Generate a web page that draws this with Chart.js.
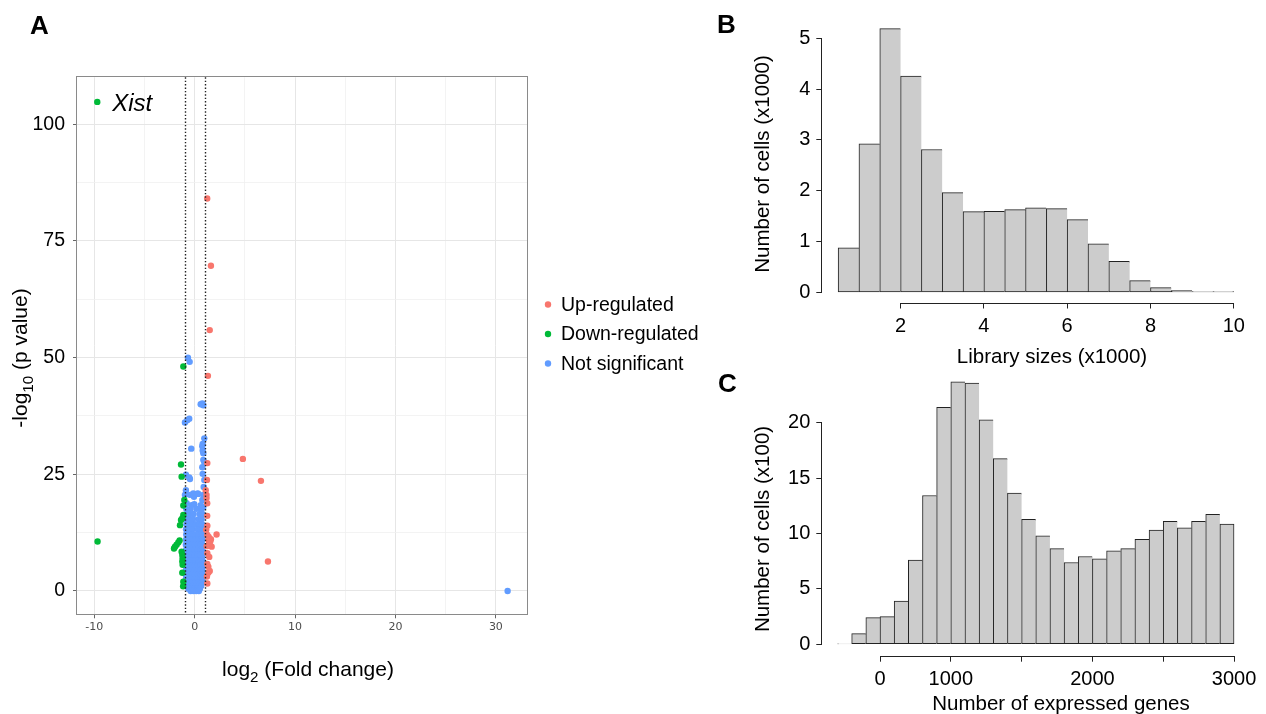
<!DOCTYPE html>
<html>
<head>
<meta charset="utf-8">
<script src="https://cdn.jsdelivr.net/npm/chart.js@4.4.1/dist/chart.umd.min.js"></script>
<style>
html,body{margin:0;padding:0;background:#fff;}
body{width:1266px;height:714px;position:relative;overflow:hidden;font-family:"Liberation Sans",Arial,Helvetica,sans-serif;}
canvas{position:absolute;}
.lab{position:absolute;z-index:5;font-weight:bold;font-size:26px;line-height:26px;color:#000;}
</style>
</head>
<body>
<canvas id="cA" width="700" height="714" style="left:0;top:0;width:700px;height:714px"></canvas>
<canvas id="cB" width="566" height="372" style="left:700px;top:0;width:566px;height:372px"></canvas>
<canvas id="cC" width="566" height="354" style="left:700px;top:360px;width:566px;height:354px"></canvas>
<div class="lab" style="left:30px;top:12px">A</div>
<div class="lab" style="left:717px;top:11px">B</div>
<div class="lab" style="left:718px;top:370px">C</div>
<script>
// ---------------- DATA ----------------
// Panel A: volcano plot, [log2 fold change, -log10 p value]
const seriesNames = ['Up-regulated', 'Down-regulated', 'Not significant'];
const upRegulated = [
  [1.25,84.1],[1.62,69.7],[1.50,55.9],[1.32,46.1],
  [1.26,27.4],[4.80,28.3],[6.60,23.6],[7.30,6.3],[2.18,12.1],
  [1.22,23.8],[1.10,21.6],[1.18,20.6],[1.18,19.9],[1.25,18.8],
  [1.25,16.1],[1.26,14.0],[1.15,13.1],[1.26,12.0],[1.40,11.6],
  [1.36,10.9],[1.62,11.1],[1.55,10.6],[1.45,10.2],[1.69,9.5],[1.20,9.6],
  [1.26,8.1],[1.45,7.3],[1.26,5.8],[1.36,5.2],[1.50,4.3],[1.36,3.9],[1.22,3.1],[1.26,1.6]
];
const downRegulated = [
  [-9.70,104.8],[-9.67,10.6],[-1.13,48.1],
  [-1.36,27.1],[-1.30,24.5],[-1.03,19.5],[-1.13,18.3],[-1.13,16.3],[-1.23,15.6],[-1.36,15.2],[-1.46,14.1],
  [-1.50,10.8],[-1.63,10.4],[-1.80,9.9],[-1.96,9.5],[-2.06,9.1],
  [-1.30,8.4],[-1.23,7.7],[-1.20,7.0],[-1.23,6.3],[-1.20,5.6],[-1.23,3.9],[-1.13,2.0],[-1.15,1.0]
];
const notSignificant = [
  [-0.67,50.0],[-0.50,49.1],
  [0.76,40.2],[0.60,40.0],[0.86,39.8],
  [-0.97,36.1],[-0.74,36.6],[-0.54,36.9],
  [0.96,32.7],[0.80,31.5],[0.76,31.0],[-0.34,30.5],[0.80,30.1],[0.86,29.5],
  [0.86,28.1],[0.96,27.6],[0.76,26.5],[0.80,25.1],[0.96,23.8],
  [-0.87,24.9],[-0.54,24.3],[-0.47,24.0],
  [0.90,22.3],[-0.87,21.6],[-0.97,20.6],[-0.47,20.6],[-0.14,20.9],[0.30,20.9],[-0.07,20.2],[0.36,20.8],[0.86,20.6],[0.76,19.5],
  [-0.80,18.8],[-0.30,18.4],[-0.04,18.6],[0.60,18.4],[0.86,18.0],
  [-0.84,17.6],[-0.40,17.6],[0.20,17.6],[0.70,17.6],
  [-0.80,16.5],[-0.50,16.5],[-0.10,16.5],[0.52,16.5],[0.76,16.5],
  [-0.86,15.4],[-0.56,15.4],[-0.16,15.4],[0.40,15.4],[0.70,15.4],
  [-0.82,14.3],[-0.52,14.3],[-0.20,14.3],[0.12,14.3],[0.44,14.3],[0.74,14.3],
  [-0.86,13.2],[-0.56,13.2],[-0.22,13.2],[0.30,13.2],[0.58,13.2],[0.76,13.2],
  [-0.84,12.1],[-0.54,12.1],[-0.24,12.1],[0.08,12.1],[0.38,12.1],[0.66,12.1],[0.78,12.1],
  [-0.86,11.0],[-0.56,11.0],[-0.26,11.0],[0.06,11.0],[0.36,11.0],[0.64,11.0],[0.78,11.0],
  [-0.88,9.9],[-0.58,9.9],[-0.28,9.9],[0.02,9.9],[0.32,9.9],[0.60,9.9],[0.76,9.9],
  [-0.86,8.8],[-0.56,8.8],[-0.26,8.8],[0.04,8.8],[0.34,8.8],[0.62,8.8],[0.78,8.8],
  [-0.88,7.7],[-0.58,7.7],[-0.30,7.7],[0.00,7.7],[0.30,7.7],[0.58,7.7],[0.76,7.7],
  [-0.86,6.6],[-0.54,6.6],[-0.24,6.6],[0.06,6.6],[0.36,6.6],[0.64,6.6],[0.78,6.6],
  [-0.88,5.5],[-0.58,5.5],[-0.28,5.5],[0.02,5.5],[0.32,5.5],[0.60,5.5],[0.78,5.5],
  [-0.86,4.5],[-0.56,4.5],[-0.26,4.5],[0.04,4.5],[0.34,4.5],[0.62,4.5],[0.76,4.5],
  [-0.88,3.5],[-0.58,3.5],[-0.28,3.5],[0.02,3.5],[0.32,3.5],[0.60,3.5],[0.78,3.5],
  [-0.86,2.6],[-0.56,2.6],[-0.26,2.6],[0.04,2.6],[0.34,2.6],[0.62,2.6],[0.78,2.6],
  [-0.84,1.8],[-0.54,1.8],[-0.24,1.8],[0.06,1.8],[0.36,1.8],[0.64,1.8],[0.76,1.8],
  [-0.76,1.1],[-0.46,1.1],[-0.16,1.1],[0.14,1.1],[0.44,1.1],[0.66,1.1],
  [-0.62,0.5],[-0.34,0.5],[-0.05,0.5],[0.24,0.5],[0.52,0.5],
  [-0.40,0.0],[-0.12,0.0],[0.16,0.0],[0.42,0.0],
  [31.17,0.0]
];
const fcCutoffs = [-1, 1];
const labelledGene = { name: 'Xist', fc: -9.70, p: 104.8 };
const volcanoXMajor = [-10, 0, 10, 20, 30];
const volcanoXMinor = [-5, 5, 15, 25];
const volcanoYMajor = [0, 25, 50, 75, 100];
const volcanoYMinor = [12.5, 37.5, 62.5, 87.5];

// Panel B: library sizes histogram (x1000), bin mids and cell counts (x1000)
const libSizeMids = [0.75,1.25,1.75,2.25,2.75,3.25,3.75,4.25,4.75,5.25,5.75,6.25,6.75,7.25,7.75,8.25,8.75,9.25,9.75];
const libSizeCells = [0.874,2.924,5.19,4.257,2.812,1.964,1.59,1.597,1.629,1.662,1.649,1.432,0.953,0.611,0.23,0.092,0.033,0.013,0.013];
const libXTicks = [2, 4, 6, 8, 10];
const libXTickLabels = ['2', '4', '6', '8', '10'];
const libYTicks = [0, 1, 2, 3, 4, 5];

// Panel C: expressed genes histogram, bin mids and cell counts (x100)
const genesMids = [250,350,450,550,650,750,850,950,1050,1150,1250,1350,1450,1550,1650,1750,1850,1950,2050,2150,2250,2350,2450,2550,2650,2750,2850,2950];
const genesCells = [0.03,0.96,2.40,2.49,3.90,7.59,13.43,21.38,23.69,23.57,20.27,16.76,13.64,11.27,9.78,8.64,7.38,7.92,7.71,8.43,8.64,9.48,10.31,11.09,10.52,11.09,11.72,10.85];
const genesXTicks = [500, 1000, 1500, 2000, 2500, 3000];
const genesXTickLabels = ['0', '1000', '', '2000', '', '3000'];
const genesYTicks = [0, 5, 10, 15, 20];

// ---------------- STYLE ----------------
const seriesColors = ['#F8766D', '#00BA38', '#619CFF'];
const FAMILY = '"Liberation Sans", Arial, Helvetica, sans-serif';
Chart.defaults.font.family = FAMILY;
Chart.defaults.color = '#000';

function makeTitles(items) {
  return {
    id: 'axisTitles',
    afterDraw(chart) {
      const ctx = chart.ctx;
      items.forEach(it => {
        ctx.save();
        ctx.translate(it.x, it.y);
        if (it.rotate) ctx.rotate(-Math.PI / 2);
        ctx.fillStyle = '#000';
        ctx.textBaseline = 'alphabetic';
        ctx.textAlign = 'left';
        const fontFor = p => (p.sub ? it.size * 0.72 : it.size) + 'px ' + FAMILY;
        const widths = it.parts.map(p => { ctx.font = fontFor(p); return ctx.measureText(p.text).width; });
        const total = widths.reduce((a, b) => a + b, 0);
        let cx = -total / 2;
        it.parts.forEach((p, i) => {
          ctx.font = fontFor(p);
          ctx.fillText(p.text, cx, p.sub ? it.size * 0.28 : 0);
          cx += widths[i];
        });
        ctx.restore();
      });
    }
  };
}

const volcanoDecor = {
  id: 'volcanoDecor',
  afterDatasetsDraw(chart) {
    const { ctx, chartArea: ca, scales: { x, y } } = chart;
    ctx.save();
    // dotted fold-change cutoffs
    ctx.strokeStyle = '#222';
    ctx.lineWidth = 1.4;
    ctx.setLineDash([1.4, 2.0]);
    fcCutoffs.forEach(v => {
      const px = Math.round(x.getPixelForValue(v)) + 0.5;
      ctx.beginPath(); ctx.moveTo(px, ca.top); ctx.lineTo(px, ca.bottom); ctx.stroke();
    });
    ctx.setLineDash([]);
    // panel border
    ctx.strokeStyle = '#8a8a8a';
    ctx.lineWidth = 1;
    const l = Math.round(ca.left) - 0.5, t = Math.round(ca.top) - 0.5;
    const r = Math.round(ca.right) + 0.5, b = Math.round(ca.bottom) + 0.5;
    ctx.strokeRect(l, t, r - l, b - t);
    // gene label
    ctx.fillStyle = '#000';
    ctx.font = 'italic 24px ' + FAMILY;
    ctx.textBaseline = 'alphabetic';
    ctx.textAlign = 'left';
    ctx.fillText(labelledGene.name, x.getPixelForValue(labelledGene.fc) + 15, y.getPixelForValue(labelledGene.p) + 9);
    // legend
    ctx.font = '19.5px ' + FAMILY;
    ctx.textBaseline = 'middle';
    chart.data.datasets.forEach((ds, i) => {
      const cy = 304.5 + i * 29.5;
      ctx.fillStyle = ds.backgroundColor;
      ctx.beginPath(); ctx.arc(548, cy, 3.2, 0, Math.PI * 2); ctx.fill();
      ctx.fillStyle = '#000';
      ctx.fillText(ds.label, 561, cy + 1);
    });
    ctx.restore();
  }
};

const rAxes = {
  id: 'rAxes',
  afterDraw(chart) {
    const { ctx, chartArea: ca, scales: { x, y } } = chart;
    ctx.save();
    ctx.strokeStyle = '#222';
    ctx.lineWidth = 1;
    const al = p => Math.round(p - 0.5) + 0.5;
    const xa = al(x.getPixelForValue(x.ticks[0].value));
    const xb = al(x.getPixelForValue(x.ticks[x.ticks.length - 1].value));
    const yb = Math.round(ca.bottom) + 0.5;
    ctx.beginPath(); ctx.moveTo(xa - 0.5, yb); ctx.lineTo(xb + 0.5, yb); ctx.stroke();
    const ya = al(y.getPixelForValue(y.ticks[0].value));
    const yt = al(y.getPixelForValue(y.ticks[y.ticks.length - 1].value));
    const xl = Math.round(ca.left) - 0.5;
    ctx.beginPath(); ctx.moveTo(xl, ya + 0.5); ctx.lineTo(xl, yt - 0.5); ctx.stroke();
    ctx.restore();
  }
};

const toPoints = arr => arr.map(([x, y]) => ({ x, y }));
const sortNum = a => a.slice().sort((p, q) => p - q);

// ---------------- PANEL A ----------------
new Chart(document.getElementById('cA'), {
  type: 'scatter',
  data: {
    datasets: [
      { label: seriesNames[0], data: toPoints(upRegulated), backgroundColor: seriesColors[0] },
      { label: seriesNames[1], data: toPoints(downRegulated), backgroundColor: seriesColors[1] },
      { label: seriesNames[2], data: toPoints(notSignificant), backgroundColor: seriesColors[2] }
    ]
  },
  options: {
    responsive: false, animation: false, events: [],
    layout: { padding: { top: 77.3, right: 172.7, bottom: 0, left: 0 } },
    elements: { point: { radius: 3.2, hoverRadius: 3.2, borderWidth: 0 } },
    plugins: { legend: { display: false }, tooltip: { enabled: false } },
    scales: {
      x: {
        type: 'linear', min: -11.72, max: 33.13, bounds: 'data',
        afterBuildTicks: s => { s.ticks = sortNum(volcanoXMajor.concat(volcanoXMinor)).map(v => ({ value: v })); },
        afterFit: s => { s.height = 99.7; s.paddingLeft = 0; s.paddingRight = 0; },
        ticks: {
          autoSkip: false, maxRotation: 0, minRotation: 0, padding: 2,
          font: { family: '"DejaVu Sans", sans-serif', size: 11 }, color: '#4d4d4d',
          callback: v => volcanoXMajor.includes(v) ? String(v) : ''
        },
        grid: {
          color: c => volcanoXMajor.includes(c.tick.value) ? '#e6e6e6' : '#f0f0f0',
          lineWidth: c => volcanoXMajor.includes(c.tick.value) ? 1 : 0.8,
          tickColor: c => volcanoXMajor.includes(c.tick.value) ? '#666' : 'rgba(0,0,0,0)',
          tickLength: 4, drawTicks: true
        },
        border: { display: false }
      },
      y: {
        type: 'linear', min: -5.0, max: 110.07, bounds: 'data',
        afterBuildTicks: s => { s.ticks = sortNum(volcanoYMajor.concat(volcanoYMinor)).map(v => ({ value: v })); },
        afterFit: s => { s.width = 77; s.paddingTop = 0; s.paddingBottom = 0; },
        ticks: {
          autoSkip: false, padding: 8, font: { size: 19.5 }, color: '#000',
          callback: v => volcanoYMajor.includes(v) ? String(v) : ''
        },
        grid: {
          color: c => volcanoYMajor.includes(c.tick.value) ? '#e6e6e6' : '#f0f0f0',
          lineWidth: c => volcanoYMajor.includes(c.tick.value) ? 1 : 0.8,
          tickColor: c => volcanoYMajor.includes(c.tick.value) ? '#666' : 'rgba(0,0,0,0)',
          tickLength: 4, drawTicks: true
        },
        border: { display: false }
      }
    }
  },
  plugins: [volcanoDecor, makeTitles([
    { x: 308, y: 676, size: 21, parts: [{ text: 'log' }, { text: '2', sub: true }, { text: ' (Fold change)' }] },
    { x: 27, y: 358, size: 21, rotate: true, parts: [{ text: '-log' }, { text: '10', sub: true }, { text: ' (p value)' }] }
  ])]
});

// ---------------- HISTOGRAMS ----------------
function histChart(id, mids, counts, cfg) {
  const n = mids.length;
  return new Chart(document.getElementById(id), {
    type: 'bar',
    data: {
      datasets: [{
        data: mids.map((m, i) => ({ x: m, y: counts[i] })),
        backgroundColor: '#cccccc',
        borderColor: '#222',
        borderWidth: c => ({ top: 1, left: 1, bottom: 1, right: c.dataIndex === n - 1 ? 1 : 0 }),
        borderSkipped: false,
        barPercentage: 1, categoryPercentage: 1
      }]
    },
    options: {
      responsive: false, animation: false, events: [],
      layout: { padding: cfg.padding },
      plugins: { legend: { display: false }, tooltip: { enabled: false } },
      scales: {
        x: {
          type: 'linear', min: cfg.xMin, max: cfg.xMax, bounds: 'data', offset: false,
          afterBuildTicks: s => { s.ticks = cfg.xTicks.map(v => ({ value: v })); },
          afterFit: s => { s.height = cfg.xAxisHeight; s.paddingLeft = 0; s.paddingRight = 0; },
          ticks: {
            autoSkip: false, maxRotation: 0, minRotation: 0, padding: 5.5,
            font: { size: 20 }, color: '#000',
            callback: (v, i) => cfg.xTickLabels[i]
          },
          grid: { display: true, offset: false, drawOnChartArea: false, drawTicks: true, tickLength: 6, tickColor: '#222', tickWidth: 1 },
          border: { display: false }
        },
        y: {
          type: 'linear', min: cfg.yMin, max: cfg.yMax, bounds: 'data',
          afterBuildTicks: s => { s.ticks = cfg.yTicks.map(v => ({ value: v })); },
          afterFit: s => { s.width = cfg.yAxisWidth; s.paddingTop = 0; s.paddingBottom = 0; },
          ticks: { autoSkip: false, padding: 6, font: { size: 20 }, color: '#000', callback: v => String(v) },
          grid: { display: true, offset: false, drawOnChartArea: false, drawTicks: true, tickLength: 6, tickColor: '#222', tickWidth: 1 },
          border: { display: false }
        }
      }
    },
    plugins: [rAxes, makeTitles(cfg.titles)]
  });
}

histChart('cB', libSizeMids, libSizeCells, {
  padding: { top: 18, right: 16.4, bottom: 0, left: 0 },
  xMin: 0.12, xMax: 10.38, yMin: -0.2, yMax: 5.4,
  xTicks: libXTicks, xTickLabels: libXTickLabels, yTicks: libYTicks,
  xAxisHeight: 69.5, yAxisWidth: 122.3,
  titles: [
    { x: 352, y: 363, size: 20.5, parts: [{ text: 'Library sizes (x1000)' }] },
    { x: 68.7, y: 164, size: 20.5, rotate: true, parts: [{ text: 'Number of cells (x1000)' }] }
  ]
});

histChart('cC', genesMids, genesCells, {
  padding: { top: 11.3, right: 16.1, bottom: 0, left: 0 },
  xMin: 92.5, xMax: 3112, yMin: -1.03, yMax: 24.64,
  xTicks: genesXTicks, xTickLabels: genesXTickLabels, yTicks: genesYTicks,
  xAxisHeight: 58.3, yAxisWidth: 122.3,
  titles: [
    { x: 361, y: 350, size: 20.5, parts: [{ text: 'Number of expressed genes' }] },
    { x: 68.7, y: 169, size: 20.5, rotate: true, parts: [{ text: 'Number of cells (x100)' }] }
  ]
});
</script>
</body>
</html>
